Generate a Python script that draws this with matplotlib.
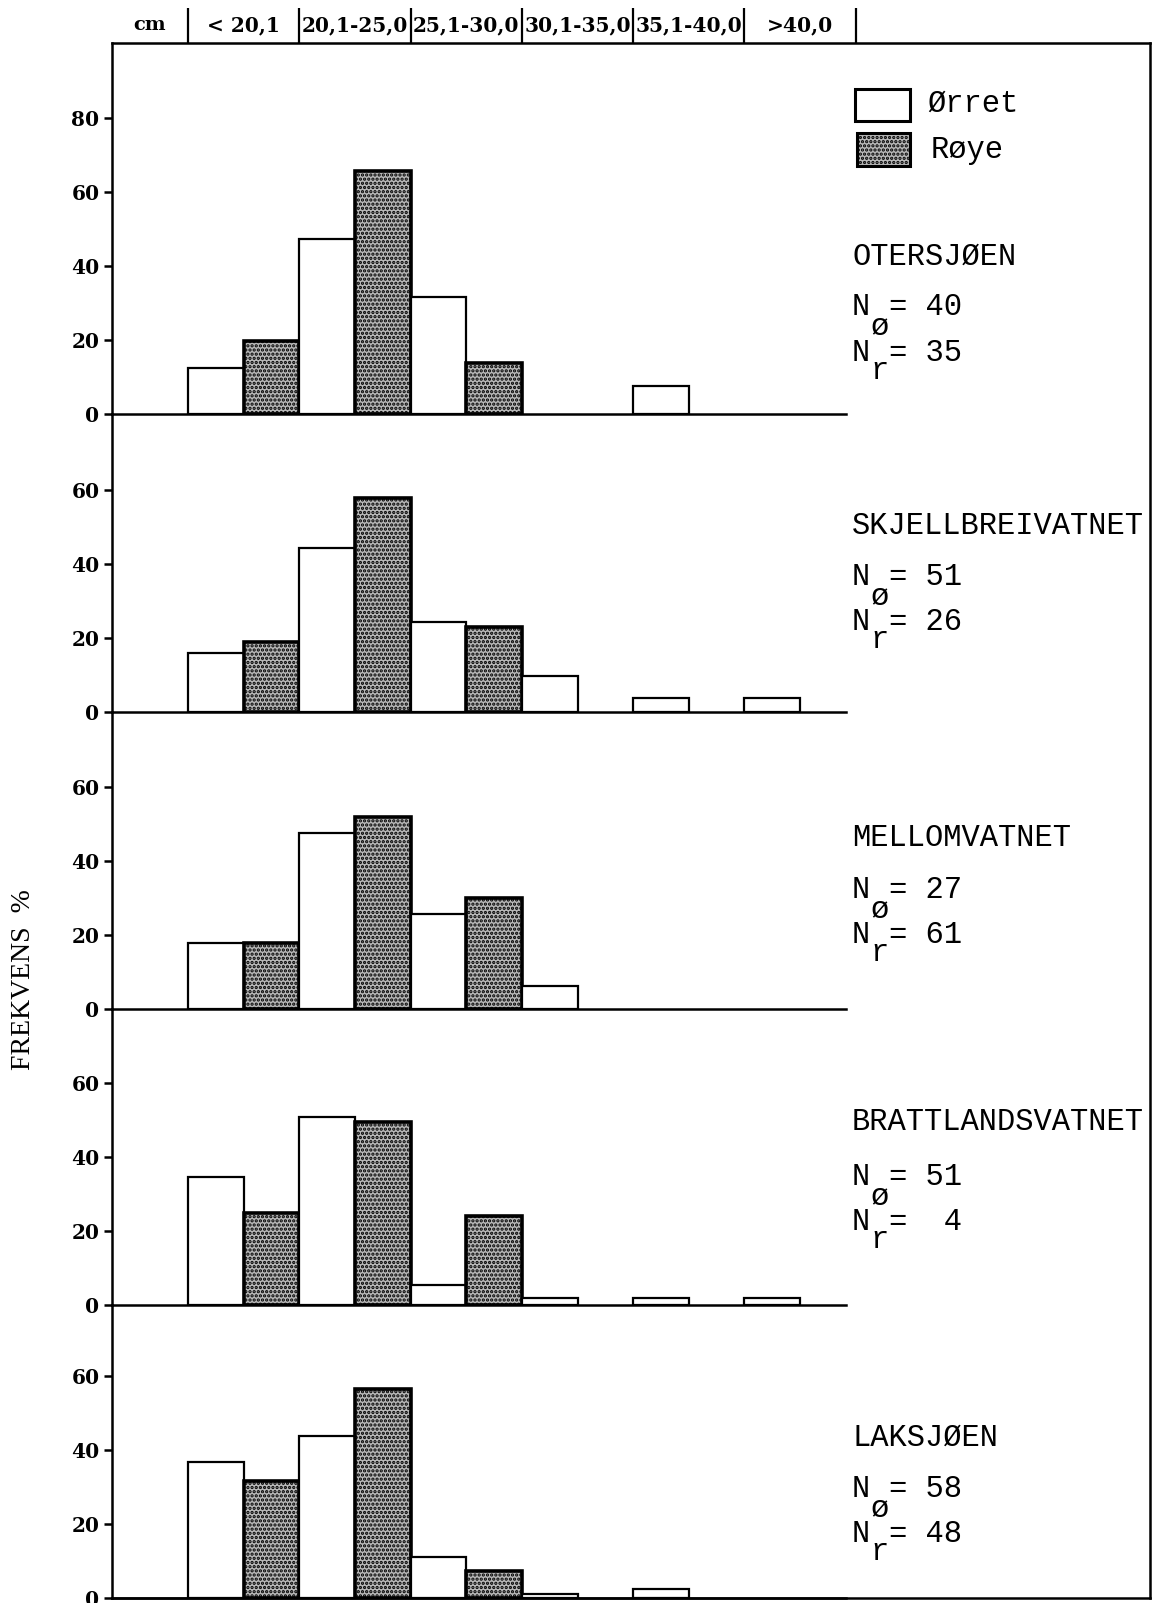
import matplotlib.pyplot as plt
from matplotlib.lines import Line2D
from matplotlib.patches import Rectangle

# Lengdefordeling av ørret og røye i fem vann
CLASSES = ["< 20,1", "20,1-25,0", "25,1-30,0", "30,1-35,0", "35,1-40,0", ">40,0"]
LAKES = ["OTERSJØEN", "SKJELLBREIVATNET", "MELLOMVATNET", "BRATTLANDSVATNET", "LAKSJØEN"]
N_ORRET = [40, 51, 27, 51, 58]
N_ROYE = [35, 26, 61, 4, 48]

# frekvens (%) per lengdeklasse
ORRET = [
    [12.5, 47.5, 31.8, 0, 7.5, 0],
    [16.0, 44.4, 24.4, 9.7, 3.8, 3.8],
    [17.9, 47.6, 25.7, 6.2, 0, 0],
    [34.6, 50.9, 5.5, 1.8, 1.8, 1.8],
    [36.8, 43.9, 11.1, 1.1, 2.4, 0],
]
ROYE = [
    [19.8, 65.8, 13.8, 0, 0, 0],
    [19.0, 57.9, 23.0, 0, 0, 0],
    [17.9, 52.0, 30.0, 0, 0, 0],
    [24.9, 49.5, 24.1, 0, 0, 0],
    [31.6, 56.6, 7.4, 0, 0, 0],
]

W, H = 1167, 1603
plt.rcParams["hatch.linewidth"] = 1.6

MONO = "Liberation Mono"
SERIF = "Liberation Serif"
BOLD = "DejaVu Serif"


def fx(px):
    return px / W


def fy(py):
    return 1 - py / H


fig = plt.figure(figsize=(W / 100, H / 100), dpi=100)

# piksel-geometri
X_LEFT, X_RIGHT = 112, 846
X0, CW = 188, 111.3          # venstre kant av første klasse, klassebredde
PX_PER_UNIT = 3.694
TOPS = [43, 414, 712, 1009, 1305]
BASES = [414, 712, 1009, 1305, 1598]
xlim = ((X_LEFT - X0) / CW, (X_RIGHT - X0) / CW)

STIPPLE = "...."
STIPPLE_BG = "#b8b8b8"
PITCH = 18.33                 # tegnbredde for 22 pt mono


def count_line(y, sub, n, sub_drop):
    fig.text(fx(852), fy(y), "N", family=MONO, fontsize=22, ha="left", va="baseline")
    fig.text(fx(852 + PITCH), fy(y + sub_drop), sub, family=MONO, fontsize=22,
             ha="left", va="baseline")
    fig.text(fx(852 + 2 * PITCH), fy(y), "= %2d" % n if n >= 10 else "=  %d" % n,
             family=MONO, fontsize=22, ha="left", va="baseline")


for k in range(len(LAKES)):
    top, base = TOPS[k], BASES[k]
    ax = fig.add_axes([fx(X_LEFT), fy(base), fx(X_RIGHT) - fx(X_LEFT), (base - top) / H])
    ax.set_xlim(*xlim)
    ax.set_ylim(0, (base - top) / PX_PER_UNIT)
    ax.patch.set_alpha(0)

    for i in range(len(CLASSES)):
        if ORRET[k][i] > 0:
            ax.bar(i, ORRET[k][i], width=0.5, align="edge", facecolor="white",
                   edgecolor="black", linewidth=1.6, zorder=3)
        if ROYE[k][i] > 0:
            ax.bar(i + 0.5, ROYE[k][i], width=0.5, align="edge", facecolor=STIPPLE_BG,
                   edgecolor="black", hatch=STIPPLE, linewidth=2.6, zorder=3)

    for s in ["top", "right"]:
        ax.spines[s].set_visible(False)
    ax.spines["left"].set_linewidth(1.8)
    ax.spines["bottom"].set_linewidth(1.8)
    ax.spines["bottom"].set_zorder(4)
    ax.set_xticks([])
    ax.set_yticks([0, 20, 40, 60, 80] if k == 0 else [0, 20, 40, 60])
    ax.tick_params(axis="y", direction="out", length=6, width=1.8, pad=3)
    for lab in ax.get_yticklabels():
        lab.set_fontfamily(BOLD)
        lab.set_fontweight("bold")
        lab.set_fontsize(14.5)

    # navn og antall
    name_y = [257, 526, 838, 1122, 1438][k]
    no_y = [315, 585, 898, 1185, 1497][k]
    nr_y = [361, 630, 943, 1230, 1542][k]
    fig.text(fx(852), fy(name_y), LAKES[k], family=MONO, fontsize=22,
             ha="left", va="center")
    count_line(no_y, "ø", N_ORRET[k], 20)
    count_line(nr_y, "r", N_ROYE[k], 18)

# overskrift med lengdeklasser
hx = fig.add_axes([fx(X_LEFT), fy(43), fx(X_RIGHT) - fx(X_LEFT), (43 - 8) / H])
hx.set_xlim(*xlim)
hx.set_ylim(0, 1)
hx.axis("off")
hx.vlines(range(len(CLASSES) + 1), 0, 1, color="black", linewidth=1.6, clip_on=False)
hx.text(xlim[0] / 2, 0.5, "cm", family=BOLD, fontweight="bold", fontsize=14,
        ha="center", va="center")
for i, c in enumerate(CLASSES):
    hx.text(i + 0.5, 0.5, c, family=BOLD, fontweight="bold", fontsize=14.5,
            ha="center", va="center", clip_on=False)

# ramme rundt hele figuren
frame = dict(color="black", linewidth=1.8, transform=fig.transFigure)
fig.add_artist(Line2D([fx(112), fx(1150)], [fy(43), fy(43)], **frame))
fig.add_artist(Line2D([fx(1150), fx(1150)], [fy(43), fy(1598)], **frame))
fig.add_artist(Line2D([fx(112), fx(1150)], [fy(1598), fy(1598)], **frame))

# tegnforklaring
fig.add_artist(Rectangle((fx(855), fy(121)), fx(910) - fx(855), (121 - 89) / H,
                         transform=fig.transFigure, facecolor="white",
                         edgecolor="black", linewidth=2.2))
fig.add_artist(Rectangle((fx(857), fy(166)), fx(910) - fx(857), (166 - 133) / H,
                         transform=fig.transFigure, facecolor=STIPPLE_BG,
                         edgecolor="black", hatch=STIPPLE, linewidth=2.2))
fig.text(fx(927), fy(112), "Ørret", family=MONO, fontsize=22, ha="left", va="baseline")
fig.text(fx(931), fy(158), "Røye", family=MONO, fontsize=22, ha="left", va="baseline")

fig.text(fx(23), fy(980), "FREKVENS  %", rotation=90, family=SERIF, fontsize=20,
         ha="center", va="center")

fig.savefig("out.png", dpi=100)
